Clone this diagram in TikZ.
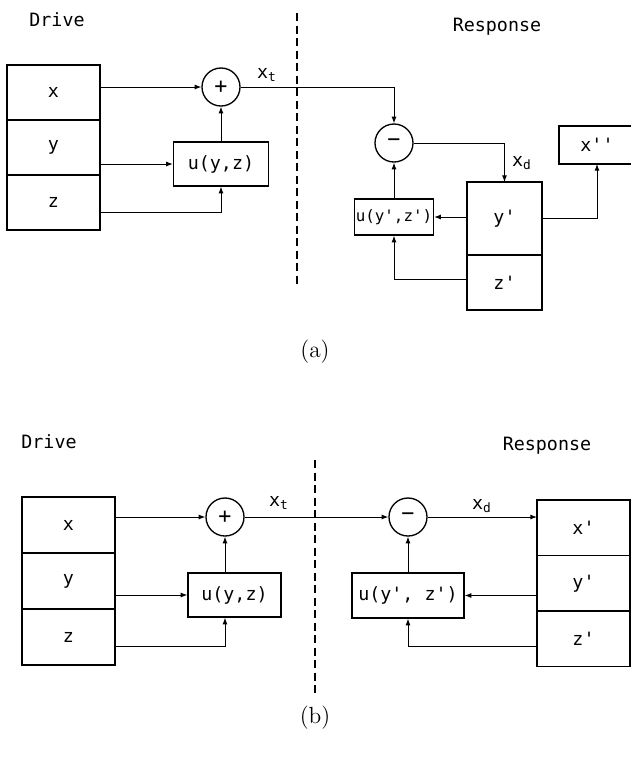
\documentclass[tikz,border=0pt]{standalone}
\usepackage{fontspec}
\newfontfamily\typefont{DejaVu Sans Mono}
\usetikzlibrary{arrows.meta, positioning}
\newcommand{\pr}{\textquotesingle}

\begin{document}
\begin{tikzpicture}[
  x=0.6pt, y=-0.6pt,
  font=\typefont\fontsize{11}{13}\selectfont,
  cell/.style={rectangle, draw, line width=0.8pt, inner sep=0pt,
               outer sep=0pt, minimum width=55.8pt, minimum height=33pt},
  ubox/.style={rectangle, draw, line width=0.8pt, inner sep=0pt,
               minimum height=26.4pt},
  sum/.style={circle, draw, line width=0.8pt, inner sep=0pt,
              minimum size=22.8pt, font=\typefont\fontsize{13}{15}\selectfont},
  arr/.style={-{Latex[length=4pt,width=3pt]}, line width=0.6pt},
  divide/.style={dash pattern=on 5pt off 2.5pt, line width=0.7pt},
  tag/.style={inner sep=1pt},
  captext/.style={font=\rmfamily\fontsize{14}{16}\selectfont}
]
  \clip (0,0) rectangle (631,758);

  % (a) drive side
  \node[tag] (drivea) at (57,20) {Drive};
  \node[cell] (ax) at (53.5,92.5) {x};
  \node[cell, below=0pt of ax] (ay) {y};
  \node[cell, below=0pt of ay] (az) {z};
  \node[sum] (plusa) at (221,87) {+};
  \node[ubox, minimum width=57pt] (ua) at (221,164) {u(y,z)};
  \node[tag] (xta) at (267,75) {x\textsubscript{t}};
  \draw[divide] (297,13) -- (297,285);

  % (a) response side
  \node[tag] (respa) at (497,27) {Response};
  \node[sum] (minusa) at (394,143) {−};
  \node[tag] (xda) at (522,163) {x\textsubscript{d}};
  \node[cell, minimum width=45pt, minimum height=43.8pt] (ary)
    at (504.5,218.5) {y\pr};
  \node[cell, minimum width=45pt, below=0pt of ary] (arz) {z\pr};
  \node[ubox, minimum width=47.4pt, minimum height=21.6pt,
        font=\typefont\fontsize{9.5}{11}\selectfont] (upa)
    at (394,217) {u(y\pr,z\pr)};
  \node[cell, minimum width=45.6pt, minimum height=22.8pt] (axpp)
    at (597,145) {x\pr\pr};
  \node[captext] (capa) at (315,352) {(a)};

  \draw[arr] (ax.east |- plusa) -- (plusa.west);
  \draw[arr] (ay.east |- ua) -- (ua.west);
  \draw[arr] ([yshift=-6pt]az.east) -| (ua.south);
  \draw[arr] (ua) -- (plusa);
  \draw[arr] (plusa.east) -| (minusa.north);
  \draw[arr] (minusa.east) -| (ary.north);
  \draw[arr] (ary.west |- upa) -- (upa.east);
  \draw[arr] ([yshift=2pt]arz.west) -| (upa.south);
  \draw[arr] (upa) -- (minusa);
  \draw[arr] (ary.east) -| (axpp.south);

  % (b) drive side
  \node[tag] (driveb) at (49,442) {Drive};
  \node[cell, minimum height=33.6pt] (bx) at (68.5,525) {x};
  \node[cell, minimum height=33.6pt, below=0pt of bx] (by) {y};
  \node[cell, minimum height=33.6pt, below=0pt of by] (bz) {z};
  \node[sum] (plusb) at (225,517) {+};
  \node[ubox, minimum width=55.8pt] (ub) at (234.5,595) {u(y,z)};
  \node[tag] (xtb) at (279,503) {x\textsubscript{t}};
  \draw[divide] (315,460) -- (315,697);

  % (b) response side
  \node[tag] (respb) at (547,446) {Response};
  \node[sum] (minusb) at (408,517) {−};
  \node[tag] (xdb) at (482,506) {x\textsubscript{d}};
  \node[cell, minimum height=33.3pt] (brx) at (583.5,527.75) {x\pr};
  \node[cell, minimum height=33.3pt, below=0pt of brx] (bry) {y\pr};
  \node[cell, minimum height=33.3pt, below=0pt of bry] (brz) {z\pr};
  \node[ubox, minimum width=67.2pt, minimum height=27pt] (upb)
    at (408,595.5) {u(y\pr, z\pr)};
  \node[captext] (capb) at (315,718) {(b)};

  \draw[arr] (bx.east |- plusb) -- (plusb.west);
  \draw[arr] (by.east |- ub) -- (ub.west);
  \draw[arr] ([yshift=-5.4pt]bz.east) -| (ub.south -| plusb);
  \draw[arr] (ub.north -| plusb) -- (plusb.south);
  \draw[arr] (plusb.east) -- (minusb.west);
  \draw[arr] (minusb.east) -- (minusb -| brx.west);
  \draw[arr] (bry.west |- upb) -- (upb.east);
  \draw[arr] ([yshift=-4.8pt]brz.west) -| (upb.south);
  \draw[arr] (upb) -- (minusb);
\end{tikzpicture}
\end{document}
